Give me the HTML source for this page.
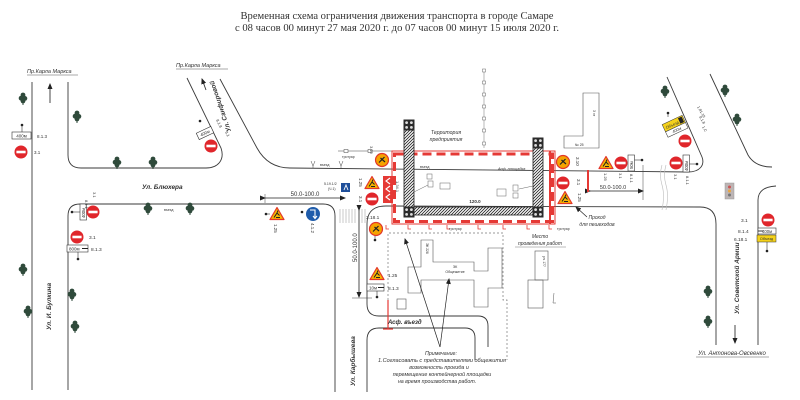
<!DOCTYPE html>
<html><head><meta charset="utf-8"><style>
html,body{margin:0;padding:0;background:#fff;}
svg{display:block;}
text{font-family:"Liberation Sans","DejaVu Sans",sans-serif;fill:#333;}
.it{font-style:italic;}
</style></head><body>
<svg width="800" height="400" viewBox="0 0 800 400" xmlns="http://www.w3.org/2000/svg">
<defs>
<pattern id="h" patternUnits="userSpaceOnUse" width="3" height="3"><rect width="3" height="3" fill="#fff"/><path d="M-1,1 L1,-1 M0,3 L3,0 M2,4 L4,2" stroke="#222" stroke-width="0.8"/></pattern>
<g id="ne"><circle r="6.5" fill="#e0262b"/><rect x="-4.6" y="-1.3" width="9.2" height="2.6" fill="#fff"/></g>
<g id="tr"><path d="M0,-6.5 L7,5.5 L-7,5.5Z" fill="#f6b400" stroke="#e2362b" stroke-width="1.2" stroke-linejoin="round"/><path d="M-3,3.5 L0,-1 L2.5,1.5 M0,-1 L1,-3.5 M-1,3.5 L3,3.5" stroke="#222" stroke-width="1" fill="none"/></g>
<g id="oc"><circle r="6.5" fill="#f5a300" stroke="#e2362b" stroke-width="1.2"/><path d="M-3,2.5 L2.5,-3 M-1.5,-2 L3,2" stroke="#222" stroke-width="1.2"/></g>
<g id="tree"><path d="M0,-2 V6" stroke="#2f4a3b" stroke-width="1"/><circle cx="0" cy="-4" r="2.4" fill="#2f4a3b"/><circle cx="-1.8" cy="-0.8" r="2.5" fill="#2f4a3b"/><circle cx="1.9" cy="-0.6" r="2.4" fill="#2f4a3b"/><circle cx="0" cy="2" r="2.4" fill="#2f4a3b"/></g>
<g id="cap"><rect x="-5.5" y="-5.5" width="11" height="11" fill="#2b2b2b"/><circle cx="-2.4" cy="-2.4" r="1.4" fill="#ddd"/><circle cx="2.4" cy="-2.4" r="1.4" fill="#ddd"/><circle cx="-2.4" cy="2.4" r="1.4" fill="#ddd"/><circle cx="2.4" cy="2.4" r="1.4" fill="#ddd"/></g>
<g id="dot"><circle r="1.3" fill="#222"/></g>
<marker id="ah" markerWidth="6" markerHeight="6" refX="5" refY="3" orient="auto" markerUnits="userSpaceOnUse"><path d="M0,0.5 L6,3 L0,5.5Z" fill="#222"/></marker>
</defs>

<!-- Title -->
<text x="397" y="19" font-family="Liberation Serif" style="font-family:'Liberation Serif',serif" font-size="10.5" text-anchor="middle" textLength="313" lengthAdjust="spacingAndGlyphs">Временная схема ограничения движения транспорта в городе Самаре</text>
<text x="397" y="31" style="font-family:'Liberation Serif',serif" font-size="10.5" text-anchor="middle" textLength="324" lengthAdjust="spacingAndGlyphs">с 08 часов 00 минут 27 мая 2020 г. до 07 часов 00 минут 15 июля 2020 г.</text>

<!-- Roads -->
<g stroke="#3a3a3a" stroke-width="0.9" fill="none">
<path d="M32,82 V390"/>
<path d="M68,82 V155 Q68,168 81,168 H206 C218,168 225,160 221,148 L187,78"/>
<path d="M220,79 L257,148 Q268,168 290,168 L688,172 C700,172 705,165 702,157 L667,77"/>
<path d="M710,74 L748,155 Q755,167 772,167"/>
<path d="M68,390 V216 Q68,204 80,204 H323 Q335,204 335,216 V392"/>
<path d="M386,206 Q367,206 367,224 V304 Q367,316 379,316 H478 Q488,316 488,326 V347"/>
<path d="M386,206 L700,207 Q716,207 716,224 V345"/>
<path d="M367,392 V340 Q367,328 379,328 H465 Q475,328 475,338 V360"/>
<path d="M758,345 V200 Q758,187 776,186"/>
</g>
<!-- break marks -->
<path d="M662,165 q-3,10 0,20 q3,10 0,25 M666,165 q-3,10 0,20 q3,10 0,25" stroke="#bbb" stroke-width="0.6" fill="none"/>

<!-- crosswalk -->
<g stroke="#bbb" stroke-width="0.8"><path d="M340,209V223M343,209V223M346,209V223M349,209V223M352,209V223M355,209V223M362,209V223M365,209V223"/></g>

<!-- street names -->
<text x="27" y="73" font-size="5.5" class="it">Пр.Карла Маркса</text>
<path d="M27,75 H78" stroke="#555" stroke-width="0.5"/>
<text x="176" y="67" font-size="5.5" class="it">Пр.Карла Маркса</text>
<path d="M176,69 H228" stroke="#555" stroke-width="0.5"/>
<text x="142" y="189" font-size="6.5" class="it" font-weight="bold">Ул. Блюхера</text>
<text transform="translate(51,330) rotate(-90)" font-size="6.5" class="it" font-weight="bold">Ул. И. Булкина</text>
<text transform="translate(355,386) rotate(-90)" font-size="6.5" class="it" font-weight="bold">Ул. Карбышева</text>
<text transform="translate(739,314) rotate(-90)" font-size="6.5" class="it" font-weight="bold">Ул. Советской Армии</text>
<text transform="translate(231,131) rotate(-109)" font-size="6.5" class="it" font-weight="bold">Ул. Санфировой</text>
<text x="732" y="355" font-size="6" class="it" text-anchor="middle">Ул. Антонова-Овсеенко</text>
<path d="M696,357 H769" stroke="#555" stroke-width="0.5"/>

<!-- direction arrows -->
<path d="M50,103 V84" stroke="#333" stroke-width="0.9" marker-end="url(#ah)"/>
<path d="M206,90 L202,79" stroke="#333" stroke-width="0.9" marker-end="url(#ah)"/>
<path d="M735,325 V343" stroke="#333" stroke-width="0.9" marker-end="url(#ah)"/>

<!-- trees -->
<use href="#tree" x="23" y="99"/><use href="#tree" x="77" y="117"/><use href="#tree" x="117" y="163"/><use href="#tree" x="153" y="163"/>
<use href="#tree" x="148" y="209"/><use href="#tree" x="190" y="209"/>
<use href="#tree" x="23" y="270"/><use href="#tree" x="72" y="295"/><use href="#tree" x="28" y="312"/><use href="#tree" x="75" y="327"/>
<use href="#tree" x="665" y="92"/><use href="#tree" x="725" y="91"/><use href="#tree" x="737" y="120"/>
<use href="#tree" x="708" y="292"/><use href="#tree" x="708" y="322"/>

<!-- upper-left signs -->
<use href="#dot" x="22" y="125"/><path d="M22,125 V132" stroke="#333" stroke-width="0.6"/>
<rect x="12" y="132" width="19" height="7" fill="#fff" stroke="#333" stroke-width="0.6"/>
<text x="21.5" y="137.5" font-size="4.5" text-anchor="middle">400м</text>
<text x="37" y="138" font-size="4.5">8.1.3</text>
<use href="#ne" x="21" y="152"/><text x="34" y="154" font-size="4.5">3.1</text>

<use href="#dot" x="200" y="121"/>
<g transform="translate(205,133) rotate(-25)"><rect x="-8" y="-3.5" width="16" height="7" fill="#fff" stroke="#333" stroke-width="0.6"/><text x="0" y="1.6" font-size="4.3" text-anchor="middle">400м</text></g>
<text transform="translate(216,120) rotate(65)" font-size="4">8.1.8</text>
<text transform="translate(225,132) rotate(65)" font-size="4">3.1</text>
<use href="#ne" x="211" y="146"/>

<!-- lower-left signs -->
<use href="#dot" x="72" y="212"/><path d="M72,212 H80" stroke="#333" stroke-width="0.6"/>
<rect x="80" y="204" width="6.5" height="16" fill="#fff" stroke="#333" stroke-width="0.6"/>
<text transform="translate(85,218) rotate(-90)" font-size="4.3">400м</text>
<text transform="translate(85,200) rotate(90)" font-size="4">8.1.1</text>
<text transform="translate(93,192) rotate(90)" font-size="4">3.1</text>
<use href="#ne" x="93" y="212"/>
<use href="#ne" x="77" y="237"/><text x="89" y="239" font-size="4.8">3.1</text>
<rect x="67" y="245" width="21" height="7" fill="#fff" stroke="#333" stroke-width="0.6"/>
<text x="69" y="250.5" font-size="4.5">800м</text><path d="M82,248.5 H88" stroke="#222" stroke-width="1"/>
<text x="91" y="251" font-size="4.8">8.1.3</text>
<use href="#dot" x="78" y="259"/><path d="M78,252 V259" stroke="#333" stroke-width="0.6"/>
<text x="164" y="211" font-size="3.5" fill="#666">въезд</text>

<!-- center-left signs -->
<use href="#dot" x="266" y="214"/><path d="M266,214 H270" stroke="#333" stroke-width="0.6"/>
<use href="#tr" x="277" y="214"/>
<text transform="translate(274,224) rotate(90)" font-size="4.5">1.25</text>
<use href="#dot" x="302" y="212"/>
<circle cx="313" cy="214" r="7" fill="#1f5cab"/><path d="M310,210 H315 V218 M313,216 L315,218.5 L317,216" stroke="#fff" stroke-width="1.1" fill="none"/>
<text transform="translate(311,223) rotate(90)" font-size="4.5">4.1.2</text>

<!-- dimensions -->
<path d="M265,198 H345" stroke="#222" stroke-width="0.8" marker-end="url(#ah)" marker-start="url(#ah)"/>
<path d="M265,194 V203" stroke="#444" stroke-width="0.5"/>
<text x="305" y="196" font-size="6" text-anchor="middle">50.0-100.0</text>
<path d="M359,210 V297" stroke="#222" stroke-width="0.8" marker-end="url(#ah)" marker-start="url(#ah)"/>
<path d="M352,298 H372" stroke="#444" stroke-width="0.5"/>
<text transform="translate(357,262) rotate(-90)" font-size="6">50.0-100.0</text>
<path d="M590,191 H643" stroke="#222" stroke-width="0.8" marker-end="url(#ah)" marker-start="url(#ah)"/>
<path d="M643,165 V200" stroke="#444" stroke-width="0.5"/>
<text x="613" y="189" font-size="5.5" text-anchor="middle">50.0-100.0</text>

<!-- ped crossing sign -->
<text x="324" y="185" font-size="3.5">5.19.1/2</text><text x="328" y="190" font-size="3.5">(Ч.1)</text>
<rect x="341" y="183" width="9" height="9" fill="#1f4f9a"/><path d="M344,190 L346,185 L348,190" stroke="#fff" stroke-width="0.9" fill="none"/>

<!-- top-left fence/tротуар -->
<path d="M338,151 H392" stroke="#444" stroke-width="0.6"/>
<rect x="344" y="149.5" width="4" height="3" fill="#fff" stroke="#444" stroke-width="0.5"/>
<rect x="368" y="149.5" width="4" height="3" fill="#fff" stroke="#444" stroke-width="0.5"/>
<text x="342" y="158" font-size="3.5" fill="#555">тротуар</text>
<path d="M311,161 L313,166 L315,161 M313,166 V168 M339,161 L341,166 L343,161 M341,166 V168" stroke="#444" stroke-width="0.5" fill="none"/>
<text x="320" y="166" font-size="3.5" fill="#555">въезд</text>

<!-- signs left of site -->
<text transform="translate(370,146) rotate(90)" font-size="4">3.10</text>
<use href="#oc" x="382" y="160"/>
<use href="#tr" x="372" y="183"/>
<text transform="translate(359,178) rotate(90)" font-size="4.5">1.25</text>
<use href="#ne" x="372" y="199"/>
<text transform="translate(359,196) rotate(90)" font-size="4.5">3.1</text>
<rect x="383" y="176" width="10" height="27" fill="#e53935"/>
<path d="M390,178 L386,181 L390,184 M390,186 L386,189 L390,192 M390,194 L386,197 L390,200" stroke="#fff" stroke-width="1.1" fill="none"/>
<text transform="translate(396,181) rotate(90)" font-size="4">1.34.1</text>
<text x="366" y="219" font-size="4.8">3.18.1</text>
<use href="#oc" x="376" y="229"/>
<use href="#dot" x="375" y="240"/><path d="M375,236 V240" stroke="#333" stroke-width="0.6"/>
<use href="#tr" x="377" y="274"/>
<text x="388" y="277" font-size="4.8">1.25</text>
<rect x="367" y="284" width="17" height="7" fill="#fff" stroke="#333" stroke-width="0.6"/>
<text x="369" y="289.5" font-size="4.5">10м</text><path d="M378,287.5 H384" stroke="#222" stroke-width="1"/>
<text x="388" y="290" font-size="4.8">8.1.3</text>
<use href="#dot" x="377" y="297"/><path d="M377,291 V297" stroke="#333" stroke-width="0.6"/>

<!-- top dashed line and territory -->
<path d="M484,70 V148" stroke="#888" stroke-width="0.6"/>
<g fill="#fff" stroke="#666" stroke-width="0.5"><rect x="482.5" y="69" width="3" height="3"/><rect x="482.5" y="81" width="3" height="3"/><rect x="482.5" y="93" width="3" height="3"/><rect x="482.5" y="105" width="3" height="3"/><rect x="482.5" y="117" width="3" height="3"/><rect x="482.5" y="129" width="3" height="3"/><rect x="482.5" y="142" width="3" height="3"/></g>
<text x="446" y="134" font-size="5.2" class="it" text-anchor="middle">Территория</text>
<text x="446" y="141" font-size="5.2" class="it" text-anchor="middle">предприятия</text>

<!-- L building top right -->
<path d="M583,93 H599 V148 H564 V136 H583 Z" fill="none" stroke="#555" stroke-width="0.6"/>
<text transform="translate(593,110) rotate(90)" font-size="3.5" fill="#555">3 эт</text>
<text x="575" y="146" font-size="3.5" fill="#555">№ 25</text>

<!-- construction site: red fence -->
<rect x="392" y="151" width="163" height="73" fill="none" stroke="#e53935" stroke-width="1"/>
<rect x="394.5" y="154" width="158" height="67.5" fill="none" stroke="#e53935" stroke-width="3" stroke-dasharray="9 5"/>
<path d="M550,151 V224" stroke="#e53935" stroke-width="2"/>
<!-- columns -->
<rect x="404" y="126" width="10" height="86" fill="url(#h)" stroke="#222" stroke-width="0.8"/>
<rect x="533" y="144" width="10" height="68" fill="url(#h)" stroke="#222" stroke-width="0.8"/>
<rect x="414" y="207" width="119" height="8" fill="url(#h)" stroke="#222" stroke-width="0.8"/>
<use href="#cap" x="409" y="125"/><use href="#cap" x="538" y="143"/>
<use href="#cap" x="409" y="212"/><use href="#cap" x="538" y="212"/>
<text x="420" y="168" font-size="3.5" fill="#555">въезд</text>
<text x="498" y="170" font-size="3.8" fill="#555" class="it">Асф. площадка</text>
<text x="475" y="203" font-size="4.5" font-weight="bold" text-anchor="middle">120.0</text>
<g fill="none" stroke="#666" stroke-width="0.5">
<rect x="427" y="174" width="5" height="5"/><rect x="428" y="181" width="5" height="6"/><rect x="440" y="183" width="10" height="6"/>
<rect x="497" y="189" width="9" height="7"/><rect x="513" y="185" width="5" height="6"/><rect x="513" y="193" width="5" height="5"/>
<path d="M414,192 L428,185 M519,189 L533,186"/>
</g>

<!-- red trotuar marks -->
<g stroke="#e53935" stroke-width="0.8" fill="none">
<path d="M386,225 v4 h3 M408,225 v4 h3 M429,225 v4 h3 M447,225 v4 h3 M478,225 v4 h3 M503,225 v4 h3 M527,225 v4 h3 M549,225 v4 h3"/>
<path d="M388,300 V329 M383,329 H393" stroke-width="1.2"/>
</g>
<text x="449" y="230" font-size="3.5" fill="#555">тротуар</text>
<text x="557" y="230" font-size="3.5" fill="#555">тротуар</text>

<!-- dashed boundary -->
<path d="M388,300 V233 H503 V300 H507 V360" fill="none" stroke="#777" stroke-width="0.7" stroke-dasharray="2 2"/>
<!-- dormitory building -->
<path d="M421,240 H433 V262 H474 V271 H488 V248 H502 V288 H488 V307 H474 V280 H421 V293 H408 V267 H421 Z" fill="none" stroke="#555" stroke-width="0.6"/>
<text transform="translate(426,243) rotate(90)" font-size="3.3" fill="#555">ЭК 228</text>
<text x="455" y="268" font-size="3.5" fill="#555" text-anchor="middle">ЭК</text>
<text x="455" y="273" font-size="3.5" fill="#555" text-anchor="middle">Общежитие</text>
<rect x="397" y="299" width="9" height="10" fill="none" stroke="#555" stroke-width="0.6"/>

<!-- work place -->
<text x="540" y="238" font-size="5" class="it" text-anchor="middle">Место</text>
<text x="540" y="245" font-size="5" class="it" text-anchor="middle">проведения работ</text>
<path d="M515,247 H566" stroke="#555" stroke-width="0.4"/>
<rect x="535" y="251" width="13" height="29" fill="none" stroke="#555" stroke-width="0.6"/>
<text transform="translate(543,256) rotate(90)" font-size="3.3" fill="#555">ул. 177</text>
<rect x="528" y="280" width="15" height="28" fill="none" stroke="#555" stroke-width="0.6"/>
<path d="M554,293 L553,303 H556" stroke="#555" stroke-width="0.5" fill="none"/>

<!-- asf vyezd -->
<text x="388" y="324" font-size="6" class="it" font-weight="bold">Асф. въезд</text>

<!-- note arrows -->
<path d="M440,347 L405,239" stroke="#222" stroke-width="0.7" marker-end="url(#ah)"/>
<path d="M440,347 L449,279" stroke="#222" stroke-width="0.7" marker-end="url(#ah)"/>
<g font-size="5.3" class="it" text-anchor="middle">
<text x="441" y="355">Примечание:</text>
<text x="442" y="362" textLength="128" lengthAdjust="spacingAndGlyphs">1.Согласовать с представителями общежития</text>
<text x="439" y="369">возможность проезда и</text>
<text x="442" y="376">перемещение  контейнерной площадки</text>
<text x="437" y="383">на время производства работ.</text>
</g>

<!-- signs right of site -->
<use href="#oc" x="563" y="162"/>
<text transform="translate(576,157) rotate(90)" font-size="4.5">3.10</text>
<use href="#ne" x="563" y="183"/>
<text transform="translate(577,179) rotate(90)" font-size="4.5">3.1</text>
<use href="#tr" x="565" y="198"/>
<text transform="translate(578,193) rotate(90)" font-size="4.5">1.25</text>
<path d="M588,170 V192" stroke="#e53935" stroke-width="2"/>
<path d="M587,217 L576,207" stroke="#222" stroke-width="0.7" marker-end="url(#ah)"/>
<text x="597" y="219" font-size="5" class="it" text-anchor="middle">Проход</text>
<text x="597" y="226" font-size="5" class="it" text-anchor="middle">для пешеходов</text>

<use href="#tr" x="606" y="163"/>
<use href="#ne" x="621" y="163"/>
<rect x="628" y="155" width="6.5" height="16" fill="#fff" stroke="#333" stroke-width="0.6"/>
<text transform="translate(633,169) rotate(-90)" font-size="4.3">50м</text>
<path d="M634.5,160 H642" stroke="#333" stroke-width="0.6"/><use href="#dot" x="642" y="160"/>
<text transform="translate(604,173) rotate(90)" font-size="4">1.25</text>
<text transform="translate(619,173) rotate(90)" font-size="4">3.1</text>
<text transform="translate(630,174) rotate(90)" font-size="4">8.1.1</text>

<use href="#ne" x="676" y="163"/>
<rect x="683" y="155" width="6.5" height="17" fill="#fff" stroke="#333" stroke-width="0.6"/>
<text transform="translate(688,171) rotate(-90)" font-size="4.3">400м</text>
<path d="M689.5,164 H697" stroke="#333" stroke-width="0.6"/><use href="#dot" x="697" y="164"/>
<text transform="translate(674,174) rotate(90)" font-size="4">3.1</text>
<text transform="translate(686,176) rotate(90)" font-size="4">8.1.1</text>

<use href="#dot" x="668" y="113"/><path d="M668,113 V117" stroke="#333" stroke-width="0.6"/>
<g transform="translate(674,124) rotate(-25)">
<rect x="-11" y="-4.5" width="22" height="8" fill="#f4d11b" stroke="#333" stroke-width="0.5"/>
<text x="-2" y="1.5" font-size="4" text-anchor="middle">Объезд</text>
<rect x="6" y="-3.5" width="4" height="6" fill="#222"/>
<rect x="-11" y="3.5" width="22" height="6" fill="#fff" stroke="#333" stroke-width="0.5"/>
<text x="0" y="8" font-size="4" text-anchor="middle">400м</text>
</g>
<use href="#ne" x="685" y="141"/>
<text transform="translate(697,107) rotate(60)" font-size="3.8">1.81.19</text>
<text transform="translate(699,117) rotate(60)" font-size="3.8">8.1.8</text>
<text transform="translate(702,127) rotate(60)" font-size="3.8">1.С</text>

<!-- traffic light -->
<rect x="725" y="183" width="9" height="16" fill="#bdb5b5" stroke="#999" stroke-width="0.5"/>
<circle cx="729.5" cy="187" r="1.5" fill="#c55"/><circle cx="729.5" cy="191" r="1.5" fill="#e9a640"/><circle cx="729.5" cy="195" r="1.5" fill="#777"/>

<!-- right bottom signs -->
<use href="#ne" x="768" y="220"/>
<text x="741" y="222" font-size="4.8">3.1</text>
<rect x="758" y="228" width="18" height="6" fill="#fff" stroke="#333" stroke-width="0.6"/>
<text x="762" y="232.8" font-size="4.3">400м</text><path d="M758,231 H763" stroke="#222" stroke-width="0.9"/>
<text x="738" y="233" font-size="4.8">8.1.4</text>
<rect x="757" y="235" width="19" height="7" fill="#f4d11b" stroke="#333" stroke-width="0.5"/>
<text x="766.5" y="240" font-size="3.8" text-anchor="middle">Объезд</text>
<text x="734" y="241" font-size="4.8">6.18.1</text>
<path d="M767,242 V251" stroke="#333" stroke-width="0.6"/><use href="#dot" x="767" y="251"/>
</svg>
</body></html>
